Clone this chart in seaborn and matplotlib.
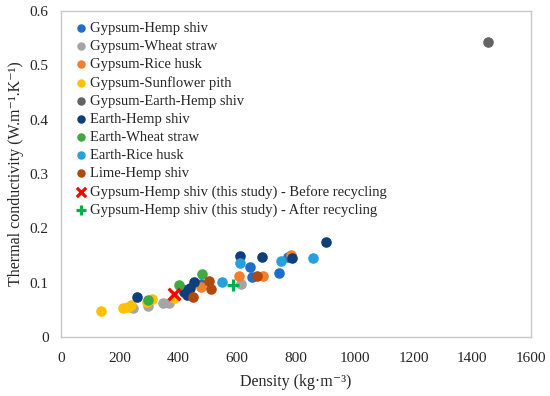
import numpy as np
import pandas as pd
import matplotlib
matplotlib.use('Agg')
import matplotlib.pyplot as plt
import seaborn as sns

# density (kg/m3) and thermal conductivity (W/m.K)
gyp_hemp_d = [476, 649, 643, 743, 774]
gyp_hemp_k = [0.098, 0.110, 0.129, 0.117, 0.148]
gyp_wheat_d = [246, 297, 348, 368, 612]
gyp_wheat_k = [0.054, 0.057, 0.062, 0.062, 0.098]
gyp_rice_d = [476, 607, 686, 782]
gyp_rice_k = [0.092, 0.112, 0.112, 0.151]
gyp_sunflower_d = [136, 212, 227, 237, 294, 311, 386]
gyp_sunflower_k = [0.048, 0.053, 0.056, 0.059, 0.065, 0.070, 0.071]
gyp_earth_hemp_d = [1452]
gyp_earth_hemp_k = [0.543]
earth_hemp_d = [260, 419, 422, 428, 439, 453, 609, 685, 787, 901]
earth_hemp_k = [0.074, 0.082, 0.087, 0.077, 0.090, 0.102, 0.149, 0.147, 0.146, 0.174]
earth_wheat_d = [295, 402, 479]
earth_wheat_k = [0.069, 0.096, 0.116]
earth_rice_d = [549, 609, 750, 859]
earth_rice_k = [0.102, 0.137, 0.140, 0.146]
lime_hemp_d = [448, 504, 510, 666]
lime_hemp_k = [0.074, 0.104, 0.088, 0.112]
before_d = [385]
before_k = [0.080]
after_d = [584]
after_k = [0.096]

series = [
    ('Gypsum-Hemp shiv', gyp_hemp_d, gyp_hemp_k, '#1F6FC9', 'o'),
    ('Gypsum-Wheat straw', gyp_wheat_d, gyp_wheat_k, '#A5A5A5', 'o'),
    ('Gypsum-Rice husk', gyp_rice_d, gyp_rice_k, '#F47F2B', 'o'),
    ('Gypsum-Sunflower pith', gyp_sunflower_d, gyp_sunflower_k, '#FFC000', 'o'),
    ('Gypsum-Earth-Hemp shiv', gyp_earth_hemp_d, gyp_earth_hemp_k, '#636363', 'o'),
    ('Earth-Hemp shiv', earth_hemp_d, earth_hemp_k, '#0F3F7A', 'o'),
    ('Earth-Wheat straw', earth_wheat_d, earth_wheat_k, '#3FAA3F', 'o'),
    ('Earth-Rice husk', earth_rice_d, earth_rice_k, '#27A0DE', 'o'),
    ('Lime-Hemp shiv', lime_hemp_d, lime_hemp_k, '#B1490F', 'o'),
    ('Gypsum-Hemp shiv (this study) - Before recycling', before_d, before_k, '#FF0000', 'x'),
    ('Gypsum-Hemp shiv (this study) - After recycling', after_d, after_k, '#00B050', '+'),
]

sns.set_style('white')
plt.rcParams['font.family'] = ['Liberation Serif', 'DejaVu Serif']

fig = plt.figure(figsize=(5.5, 3.96), dpi=100)
ax = fig.add_axes([0.111, 0.149, 0.8545, 0.823])

for name, d, k, col, mk in series:
    df = pd.DataFrame({'Density': d, 'k': k})
    if mk == 'o':
        sns.scatterplot(data=df, x='Density', y='k', ax=ax, color=col, marker='o',
                        s=58, linewidth=0, label=name, zorder=3)
    else:
        sns.scatterplot(data=df, x='Density', y='k', ax=ax, color=col, marker=mk,
                        s=70, linewidth=2.3, label=name, zorder=4)

ax.set_xlim(0, 1600)
ax.set_ylim(0, 0.6)
ax.set_xticks(np.arange(0, 1601, 200))
ax.set_yticks(np.arange(0, 0.61, 0.1))
ax.set_yticklabels(['0', '0.1', '0.2', '0.3', '0.4', '0.5', '0.6'])
ax.tick_params(axis='both', direction='in', length=3, color='#BFBFBF', labelsize=11,
               labelcolor='#262626')
ax.tick_params(axis='x', pad=11)
ax.tick_params(axis='y', pad=9)
for sp in ax.spines.values():
    sp.set_color('#C8C8C8')
    sp.set_linewidth(1.0)

ax.set_xlabel('Density (kg·m⁻³)', fontsize=11.5, color='#262626', labelpad=6)
ax.set_ylabel('Thermal conductivity (W.m⁻¹.K⁻¹)', fontsize=11.5, color='#262626')

leg = ax.legend(loc='upper left', frameon=False, fontsize=10.5, handletextpad=0.1,
                labelspacing=0.33, borderaxespad=0.0, markerscale=0.8,
                handlelength=1.0, bbox_to_anchor=(0.015, 0.985))
for t in leg.get_texts():
    t.set_color('#262626')

fig.savefig('out.png', dpi=100)
